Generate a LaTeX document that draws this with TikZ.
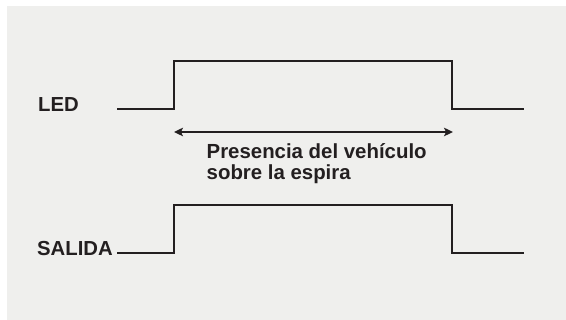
\documentclass[tikz,border=0pt]{standalone}
\usepackage{fontspec}
\setmainfont{Liberation Sans}
\usetikzlibrary{arrows.meta}
\definecolor{panel}{HTML}{EFEFED}
\definecolor{ink}{HTML}{231F20}
\begin{document}
\begin{tikzpicture}[x=1pt,y=1pt,
  signal/.style={draw=ink, line width=1.2pt},
  span/.style={draw=ink, line width=1.8pt, {Stealth[length=9pt,width=8.5pt,inset=2pt]}-{Stealth[length=9pt,width=8.5pt,inset=2pt]}},
  lbl/.style={font=\fontsize{20.3}{22}\selectfont\bfseries, text=ink, inner sep=0pt, anchor=base west},
  captext/.style={font=\fontsize{20.4}{22}\selectfont\bfseries, text=ink, inner sep=0pt, anchor=base west}]
\useasboundingbox (0,0) rectangle (566,320);
\fill[white] (0,0) rectangle (566,320);
\fill[panel] (7,0) rectangle (566,314);
% LED signal
\coordinate (l0) at (117,211);
\coordinate (l1) at (174,211);
\coordinate (l2) at (174,259);
\coordinate (l3) at (452,259);
\coordinate (l4) at (452,211);
\coordinate (l5) at (524,211);
\draw[signal] (l0) -- (l1) -- (l2) -- (l3) -- (l4) -- (l5);
% SALIDA signal
\coordinate (s0) at (117,67);
\coordinate (s1) at (174,67);
\coordinate (s2) at (174,115);
\coordinate (s3) at (452,115);
\coordinate (s4) at (452,67);
\coordinate (s5) at (524,67);
\draw[signal] (s0) -- (s1) -- (s2) -- (s3) -- (s4) -- (s5);
% arrow
\coordinate (a0) at (174,188);
\coordinate (a1) at (453,188);
\draw[span] (a0) -- (a1);
% labels
\node[lbl] (led) at (38,208.3) {LED};
\node[lbl] (salida) at (37,64.5) {SALIDA};
\node[captext] (t1) at (206.5,161) {Presencia del vehículo};
\node[captext] (t2) at (206.5,140) {sobre la espira};
\end{tikzpicture}
\end{document}
